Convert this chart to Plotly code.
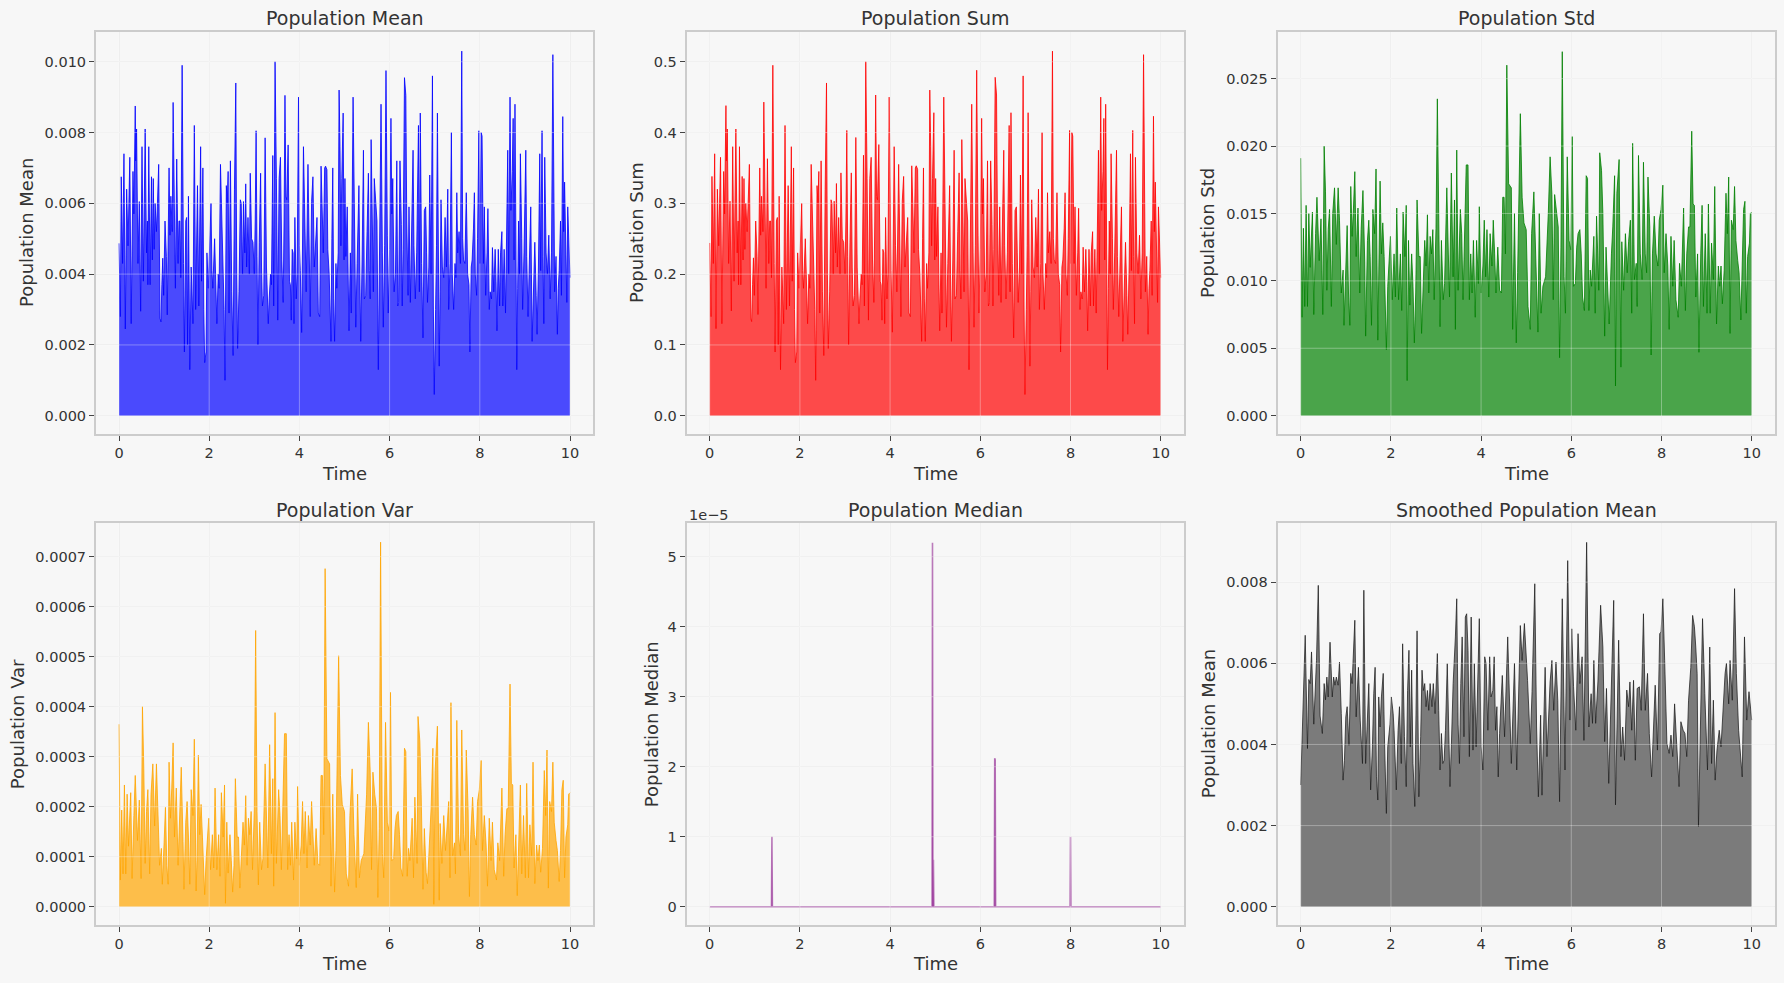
import plotly.graph_objects as go

# ---- values ----
mean_time = [
    0.00, 0.03, 0.05, 0.08, 0.11, 0.14, 0.17, 0.20, 0.24, 0.27,
    0.31, 0.33, 0.36, 0.37, 0.39, 0.42, 0.45, 0.48, 0.51, 0.54,
    0.58, 0.61, 0.63, 0.64, 0.66, 0.69, 0.72, 0.74, 0.76, 0.78,
    0.80, 0.83, 0.85, 0.88, 0.91, 0.93, 0.95, 0.97, 0.99, 1.02,
    1.05, 1.07, 1.11, 1.13, 1.15, 1.18, 1.20, 1.23, 1.25, 1.28,
    1.31, 1.33, 1.35, 1.37, 1.40, 1.43, 1.45, 1.48, 1.50, 1.52,
    1.54, 1.57, 1.60, 1.64, 1.67, 1.70, 1.74, 1.77, 1.79, 1.81,
    1.83, 1.86, 1.88, 1.90, 1.93, 1.95, 1.98, 2.02, 2.04, 2.06,
    2.08, 2.12, 2.14, 2.17, 2.20, 2.22, 2.25, 2.27, 2.30, 2.33,
    2.35, 2.38, 2.40, 2.42, 2.44, 2.47, 2.50, 2.53, 2.56, 2.59,
    2.61, 2.63, 2.66, 2.69, 2.71, 2.74, 2.76, 2.79, 2.81, 2.83,
    2.86, 2.89, 2.91, 2.94, 2.97, 3.00, 3.02, 3.04, 3.06, 3.08,
    3.11, 3.14, 3.16, 3.18, 3.21, 3.24, 3.27, 3.29, 3.31, 3.33,
    3.36, 3.38, 3.41, 3.43, 3.46, 3.49, 3.52, 3.55, 3.58, 3.61,
    3.64, 3.66, 3.68, 3.70, 3.72, 3.75, 3.78, 3.80, 3.82, 3.84,
    3.86, 3.88, 3.90, 3.93, 3.95, 3.98, 4.00, 4.02, 4.05, 4.09,
    4.12, 4.15, 4.19, 4.21, 4.24, 4.27, 4.30, 4.33, 4.36, 4.39,
    4.42, 4.45, 4.48, 4.50, 4.53, 4.56, 4.58, 4.61, 4.63, 4.66,
    4.70, 4.72, 4.74, 4.76, 4.78, 4.81, 4.83, 4.86, 4.88, 4.90,
    4.92, 4.94, 4.97, 4.99, 5.01, 5.03, 5.06, 5.08, 5.10, 5.13,
    5.15, 5.19, 5.22, 5.25, 5.28, 5.32, 5.34, 5.36, 5.39, 5.42,
    5.44, 5.47, 5.50, 5.53, 5.55, 5.57, 5.59, 5.62, 5.64, 5.66,
    5.69, 5.72, 5.75, 5.78, 5.81, 5.84, 5.86, 5.89, 5.92, 5.95,
    5.97, 6.00, 6.03, 6.05, 6.07, 6.10, 6.13, 6.16, 6.18, 6.20,
    6.23, 6.26, 6.28, 6.30, 6.33, 6.36, 6.38, 6.41, 6.43, 6.46,
    6.49, 6.52, 6.54, 6.57, 6.60, 6.64, 6.66, 6.68, 6.71, 6.74,
    6.77, 6.80, 6.82, 6.84, 6.87, 6.89, 6.92, 6.95, 6.97, 6.99,
    7.02, 7.04, 7.06, 7.08, 7.10, 7.12, 7.14, 7.17, 7.20, 7.23,
    7.26, 7.29, 7.31, 7.34, 7.37, 7.39, 7.42, 7.45, 7.47, 7.49,
    7.51, 7.54, 7.57, 7.60, 7.62, 7.64, 7.67, 7.70, 7.73, 7.76,
    7.78, 7.81, 7.83, 7.86, 7.88, 7.90, 7.93, 7.95, 7.98, 8.00,
    8.03, 8.05, 8.08, 8.10, 8.13, 8.16, 8.18, 8.21, 8.23, 8.26,
    8.28, 8.31, 8.34, 8.36, 8.38, 8.41, 8.44, 8.46, 8.49, 8.51,
    8.54, 8.57, 8.59, 8.62, 8.64, 8.67, 8.69, 8.72, 8.74, 8.76,
    8.78, 8.80, 8.82, 8.84, 8.86, 8.88, 8.90, 8.93, 8.95, 8.98,
    9.02, 9.04, 9.07, 9.10, 9.13, 9.16, 9.19, 9.22, 9.25, 9.27,
    9.30, 9.33, 9.35, 9.38, 9.40, 9.42, 9.44, 9.47, 9.50, 9.53,
    9.56, 9.59, 9.62, 9.64, 9.66, 9.69, 9.72, 9.74, 9.76, 9.79,
    9.81, 9.84, 9.86, 9.88, 9.91, 9.93, 9.95, 9.98, 10.00,
]

mean_vals = [
    4.87e-3, 2.8e-3, 6.75e-3, 4.3e-3, 7.4e-3, 2.45e-3, 6.4e-3, 4.8e-3, 7.3e-3, 2.6e-3,
    6.9e-3, 5.7e-3, 8.75e-3, 7.2e-3, 8.1e-3, 4.3e-3, 6.05e-3, 2.95e-3, 7.6e-3, 3.8e-3,
    8.1e-3, 4.6e-3, 5.5e-3, 3.7e-3, 7.6e-3, 3.7e-3, 6.75e-3, 4.4e-3, 6.7e-3, 4.7e-3,
    6.0e-3, 5.2e-3, 5.9e-3, 7.1e-3, 2.75e-3, 2.65e-3, 3.7e-3, 4.45e-3, 3.4e-3, 5.5e-3,
    4.5e-3, 2.85e-3, 7.0e-3, 5.1e-3, 6.2e-3, 5.2e-3, 8.85e-3, 5.05e-3, 3.6e-3, 7.25e-3,
    4.3e-3, 5.5e-3, 5.5e-3, 3.9e-3, 9.9e-3, 4.3e-3, 1.8e-3, 5.5e-3, 5.6e-3, 2.0e-3,
    6.2e-3, 1.3e-3, 4.2e-3, 2.6e-3, 8.2e-3, 3.0e-3, 6.5e-3, 3.1e-3, 6.2e-3, 7.6e-3,
    3.8e-3, 7.0e-3, 3.0e-3, 1.5e-3, 1.8e-3, 4.6e-3, 3.6e-3, 5.7e-3, 6.0e-3, 4.1e-3,
    3.6e-3, 5.0e-3, 3.6e-3, 2.6e-3, 4.0e-3, 3.6e-3, 7.1e-3, 6.1e-3, 4.7e-3, 3.0e-3,
    1.0e-3, 6.5e-3, 6.0e-3, 6.9e-3, 2.9e-3, 7.2e-3, 3.5e-3, 1.7e-3, 6.4e-3, 9.4e-3,
    4.0e-3, 1.9e-3, 3.5e-3, 6.1e-3, 6.0e-3, 4.0e-3, 6.05e-3, 4.6e-3, 6.55e-3, 4.2e-3,
    5.6e-3, 4.0e-3, 6.85e-3, 5.0e-3, 4.9e-3, 4.0e-3, 5.5e-3, 8.05e-3, 4.5e-3, 2.0e-3,
    4.9e-3, 6.85e-3, 4.2e-3, 3.1e-3, 3.4e-3, 7.85e-3, 4.2e-3, 2.9e-3, 2.6e-3, 3.3e-3,
    4.0e-3, 3.7e-3, 7.35e-3, 3.1e-3, 10.0e-3, 6.7e-3, 2.7e-3, 6.7e-3, 7.3e-3, 4.4e-3,
    3.2e-3, 5.5e-3, 9.05e-3, 6.2e-3, 6.1e-3, 7.65e-3, 3.8e-3, 3.7e-3, 2.7e-3, 4.7e-3,
    4.6e-3, 2.6e-3, 5.6e-3, 3.3e-3, 4.0e-3, 9.0e-3, 4.8e-3, 4.1e-3, 2.35e-3, 7.6e-3,
    4.8e-3, 3.5e-3, 7.1e-3, 4.7e-3, 2.8e-3, 6.05e-3, 6.75e-3, 4.2e-3, 5.0e-3, 5.6e-3,
    2.9e-3, 2.8e-3, 7.05e-3, 5.7e-3, 4.6e-3, 7.0e-3, 7.05e-3, 6.95e-3, 4.7e-3, 4.0e-3,
    2.1e-3, 5.0e-3, 7.0e-3, 3.3e-3, 2.1e-3, 4.3e-3, 3.6e-3, 4.6e-3, 9.2e-3, 7.6e-3,
    4.8e-3, 6.7e-3, 8.55e-3, 4.4e-3, 6.7e-3, 4.5e-3, 5.9e-3, 4.0e-3, 2.4e-3, 4.6e-3,
    2.9e-3, 9.0e-3, 4.9e-3, 2.5e-3, 4.3e-3, 6.5e-3, 4.0e-3, 2.1e-3, 4.4e-3, 7.5e-3,
    3.3e-3, 3.4e-3, 5.2e-3, 6.85e-3, 4.1e-3, 3.3e-3, 7.8e-3, 4.7e-3, 3.5e-3, 6.7e-3,
    6.0e-3, 5.5e-3, 1.3e-3, 4.5e-3, 8.8e-3, 4.6e-3, 2.5e-3, 4.8e-3, 9.75e-3, 5.1e-3,
    2.9e-3, 4.7e-3, 8.4e-3, 5.7e-3, 6.7e-3, 3.5e-3, 4.0e-3, 7.2e-3, 3.1e-3, 3.2e-3,
    7.2e-3, 5.4e-3, 3.1e-3, 4.7e-3, 9.55e-3, 9.05e-3, 5.5e-3, 3.4e-3, 5.9e-3, 3.2e-3,
    5.6e-3, 7.5e-3, 4.8e-3, 3.3e-3, 4.6e-3, 8.2e-3, 3.5e-3, 8.55e-3, 4.3e-3, 2.2e-3,
    5.8e-3, 5.9e-3, 4.6e-3, 3.2e-3, 4.2e-3, 6.8e-3, 4.0e-3, 9.6e-3, 3.1e-3, 0.6e-3,
    3.0e-3, 4.8e-3, 8.55e-3, 4.0e-3, 1.4e-3, 3.5e-3, 6.1e-3, 4.2e-3, 3.9e-3, 5.6e-3,
    4.2e-3, 6.4e-3, 3.0e-3, 4.3e-3, 8.0e-3, 4.0e-3, 3.0e-3, 4.3e-3, 3.9e-3, 6.3e-3,
    4.6e-3, 5.2e-3, 4.3e-3, 10.3e-3, 5.0e-3, 4.4e-3, 4.3e-3, 6.3e-3, 4.0e-3, 3.7e-3,
    1.8e-3, 4.2e-3, 4.4e-3, 5.3e-3, 6.3e-3, 4.0e-3, 3.4e-3, 5.0e-3, 8.05e-3, 4.3e-3,
    8.0e-3, 7.9e-3, 4.3e-3, 5.9e-3, 3.4e-3, 4.6e-3, 5.85e-3, 3.0e-3, 3.5e-3, 3.3e-3,
    4.75e-3, 3.5e-3, 4.7e-3, 3.8e-3, 2.4e-3, 4.7e-3, 3.1e-3, 4.6e-3, 5.2e-3, 3.1e-3,
    4.7e-3, 2.9e-3, 4.3e-3, 7.5e-3, 4.0e-3, 9.0e-3, 5.8e-3, 6.9e-3, 8.4e-3, 4.4e-3,
    8.8e-3, 4.7e-3, 1.3e-3, 3.6e-3, 5.5e-3, 4.0e-3, 7.4e-3, 5.0e-3, 3.0e-3, 4.6e-3,
    7.5e-3, 4.5e-3, 2.8e-3, 4.4e-3, 5.9e-3, 2.1e-3, 3.6e-3, 4.9e-3, 3.4e-3, 2.3e-3,
    4.2e-3, 7.4e-3, 4.1e-3, 8.05e-3, 4.5e-3, 2.6e-3, 7.3e-3, 4.6e-3, 4.0e-3, 5.1e-3,
    3.3e-3, 4.6e-3, 10.2e-3, 6.2e-3, 3.5e-3, 4.5e-3, 2.3e-3, 3.6e-3, 4.1e-3, 5.5e-3,
    3.4e-3, 8.45e-3, 5.2e-3, 6.6e-3, 4.2e-3, 3.2e-3, 5.9e-3, 4.6e-3, 3.9e-3,
]

sum_vals = [
    0.244, 0.140, 0.338, 0.215, 0.370, 0.123, 0.320, 0.240, 0.365, 0.130,
    0.345, 0.285, 0.438, 0.360, 0.405, 0.215, 0.303, 0.148, 0.380, 0.190,
    0.405, 0.230, 0.275, 0.185, 0.380, 0.185, 0.338, 0.220, 0.335, 0.235,
    0.300, 0.260, 0.295, 0.355, 0.138, 0.133, 0.185, 0.223, 0.170, 0.275,
    0.225, 0.143, 0.350, 0.255, 0.310, 0.260, 0.443, 0.253, 0.180, 0.363,
    0.215, 0.275, 0.275, 0.195, 0.495, 0.215, 0.090, 0.275, 0.280, 0.100,
    0.310, 0.065, 0.210, 0.130, 0.410, 0.150, 0.325, 0.155, 0.310, 0.380,
    0.190, 0.350, 0.150, 0.075, 0.090, 0.230, 0.180, 0.285, 0.300, 0.205,
    0.180, 0.250, 0.180, 0.130, 0.200, 0.180, 0.355, 0.305, 0.235, 0.150,
    0.050, 0.325, 0.300, 0.345, 0.145, 0.360, 0.175, 0.085, 0.320, 0.470,
    0.200, 0.095, 0.175, 0.305, 0.300, 0.200, 0.303, 0.230, 0.328, 0.210,
    0.280, 0.200, 0.343, 0.250, 0.245, 0.200, 0.275, 0.403, 0.225, 0.100,
    0.245, 0.343, 0.210, 0.155, 0.170, 0.393, 0.210, 0.145, 0.130, 0.165,
    0.200, 0.185, 0.368, 0.155, 0.500, 0.335, 0.135, 0.335, 0.365, 0.220,
    0.160, 0.275, 0.453, 0.310, 0.305, 0.383, 0.190, 0.185, 0.135, 0.235,
    0.230, 0.130, 0.280, 0.165, 0.200, 0.450, 0.240, 0.205, 0.118, 0.380,
    0.240, 0.175, 0.355, 0.235, 0.140, 0.303, 0.338, 0.210, 0.250, 0.280,
    0.145, 0.140, 0.353, 0.285, 0.230, 0.350, 0.353, 0.348, 0.235, 0.200,
    0.105, 0.250, 0.350, 0.165, 0.105, 0.215, 0.180, 0.230, 0.460, 0.380,
    0.240, 0.335, 0.428, 0.220, 0.335, 0.225, 0.295, 0.200, 0.120, 0.230,
    0.145, 0.450, 0.245, 0.125, 0.215, 0.325, 0.200, 0.105, 0.220, 0.375,
    0.165, 0.170, 0.260, 0.343, 0.205, 0.165, 0.390, 0.235, 0.175, 0.335,
    0.300, 0.275, 0.065, 0.225, 0.440, 0.230, 0.125, 0.240, 0.488, 0.255,
    0.145, 0.235, 0.420, 0.285, 0.335, 0.175, 0.200, 0.360, 0.155, 0.160,
    0.360, 0.270, 0.155, 0.235, 0.478, 0.453, 0.275, 0.170, 0.295, 0.160,
    0.280, 0.375, 0.240, 0.165, 0.230, 0.410, 0.175, 0.428, 0.215, 0.110,
    0.290, 0.295, 0.230, 0.160, 0.210, 0.340, 0.200, 0.480, 0.155, 0.030,
    0.150, 0.240, 0.428, 0.200, 0.070, 0.175, 0.305, 0.210, 0.195, 0.280,
    0.210, 0.320, 0.150, 0.215, 0.400, 0.200, 0.150, 0.215, 0.195, 0.315,
    0.230, 0.260, 0.215, 0.515, 0.250, 0.220, 0.215, 0.315, 0.200, 0.185,
    0.090, 0.210, 0.220, 0.265, 0.315, 0.200, 0.170, 0.250, 0.403, 0.215,
    0.400, 0.395, 0.215, 0.295, 0.170, 0.230, 0.293, 0.150, 0.175, 0.165,
    0.238, 0.175, 0.235, 0.190, 0.120, 0.235, 0.155, 0.230, 0.260, 0.155,
    0.235, 0.145, 0.215, 0.375, 0.200, 0.450, 0.290, 0.345, 0.420, 0.220,
    0.440, 0.235, 0.065, 0.180, 0.275, 0.200, 0.370, 0.250, 0.150, 0.230,
    0.375, 0.225, 0.140, 0.220, 0.295, 0.105, 0.180, 0.245, 0.170, 0.115,
    0.210, 0.370, 0.205, 0.403, 0.225, 0.130, 0.365, 0.230, 0.200, 0.255,
    0.165, 0.230, 0.510, 0.310, 0.175, 0.225, 0.115, 0.180, 0.205, 0.275,
    0.170, 0.423, 0.260, 0.330, 0.210, 0.160, 0.295, 0.230, 0.195,
]

std_time = [
    0.00, 0.03, 0.06, 0.09, 0.12, 0.15, 0.18, 0.21, 0.26, 0.29,
    0.33, 0.36, 0.41, 0.45, 0.49, 0.52, 0.55, 0.58, 0.61, 0.64,
    0.68, 0.71, 0.75, 0.79, 0.83, 0.86, 0.90, 0.94, 0.96, 1.00,
    1.03, 1.06, 1.09, 1.11, 1.14, 1.17, 1.20, 1.23, 1.27, 1.31,
    1.34, 1.38, 1.42, 1.44, 1.48, 1.51, 1.54, 1.57, 1.60, 1.64,
    1.67, 1.71, 1.73, 1.76, 1.79, 1.82, 1.85, 1.90, 1.93, 1.96,
    1.99, 2.03, 2.07, 2.10, 2.13, 2.17, 2.21, 2.24, 2.27, 2.31,
    2.34, 2.36, 2.39, 2.42, 2.46, 2.49, 2.52, 2.55, 2.58, 2.62,
    2.65, 2.68, 2.71, 2.75, 2.78, 2.81, 2.84, 2.87, 2.90, 2.93,
    2.96, 3.00, 3.03, 3.06, 3.09, 3.12, 3.16, 3.19, 3.24, 3.28,
    3.30, 3.34, 3.38, 3.41, 3.43, 3.46, 3.49, 3.54, 3.57, 3.60,
    3.63, 3.67, 3.71, 3.74, 3.77, 3.80, 3.83, 3.87, 3.90, 3.94,
    3.96, 4.00, 4.04, 4.07, 4.10, 4.13, 4.17, 4.20, 4.24, 4.27,
    4.30, 4.33, 4.37, 4.41, 4.45, 4.48, 4.51, 4.54, 4.57, 4.61,
    4.67, 4.70, 4.74, 4.78, 4.81, 4.87, 4.91, 4.95, 5.00, 5.04,
    5.09, 5.12, 5.17, 5.21, 5.26, 5.29, 5.33, 5.37, 5.43, 5.49,
    5.53, 5.57, 5.60, 5.63, 5.67, 5.71, 5.74, 5.77, 5.80, 5.84,
    5.87, 5.91, 5.95, 5.99, 6.02, 6.05, 6.09, 6.12, 6.15, 6.19,
    6.22, 6.25, 6.29, 6.33, 6.36, 6.39, 6.42, 6.45, 6.50, 6.53,
    6.56, 6.61, 6.63, 6.67, 6.70, 6.74, 6.77, 6.81, 6.84, 6.89,
    6.92, 6.96, 6.98, 7.01, 7.06, 7.10, 7.12, 7.16, 7.20, 7.24,
    7.27, 7.31, 7.34, 7.36, 7.40, 7.44, 7.46, 7.49, 7.53, 7.57,
    7.60, 7.64, 7.67, 7.70, 7.74, 7.77, 7.80, 7.84, 7.88, 7.92,
    7.95, 7.99, 8.03, 8.06, 8.10, 8.14, 8.17, 8.21, 8.25, 8.28,
    8.32, 8.37, 8.40, 8.44, 8.49, 8.53, 8.56, 8.60, 8.63, 8.67,
    8.70, 8.73, 8.76, 8.80, 8.83, 8.87, 8.90, 8.93, 8.97, 9.01,
    9.04, 9.08, 9.11, 9.15, 9.18, 9.22, 9.26, 9.29, 9.32, 9.35,
    9.39, 9.43, 9.46, 9.49, 9.52, 9.55, 9.59, 9.62, 9.65, 9.69,
    9.72, 9.76, 9.79, 9.82, 9.85, 9.88, 9.91, 9.95, 9.97, 10.00,
]

std_vals = [
    19.1e-3, 7.3e-3, 13.9e-3, 8.1e-3, 15.6e-3, 8.1e-3, 15.0e-3, 11.0e-3, 15.1e-3, 7.5e-3,
    13.5e-3, 16.2e-3, 11.5e-3, 14.6e-3, 7.5e-3, 20.0e-3, 16.6e-3, 9.3e-3, 13.8e-3, 15.3e-3,
    8.1e-3, 15.0e-3, 16.9e-3, 12.7e-3, 16.9e-3, 14.5e-3, 9.1e-3, 10.8e-3, 6.7e-3, 11.3e-3,
    14.1e-3, 9.1e-3, 6.7e-3, 17.0e-3, 13.3e-3, 15.4e-3, 18.1e-3, 11.8e-3, 15.4e-3, 9.1e-3,
    13.8e-3, 16.7e-3, 11.4e-3, 5.9e-3, 13.0e-3, 14.5e-3, 11.8e-3, 6.7e-3, 15.3e-3, 13.5e-3,
    18.3e-3, 5.6e-3, 9.6e-3, 17.4e-3, 12.0e-3, 14.3e-3, 11.8e-3, 4.9e-3, 9.6e-3, 11.3e-3,
    13.3e-3, 8.6e-3, 12.0e-3, 8.8e-3, 15.4e-3, 8.6e-3, 12.0e-3, 7.8e-3, 15.1e-3, 11.8e-3,
    15.6e-3, 2.6e-3, 13.0e-3, 8.2e-3, 12.0e-3, 9.6e-3, 5.4e-3, 9.1e-3, 16.0e-3, 11.8e-3,
    11.8e-3, 6.1e-3, 9.1e-3, 13.0e-3, 11.1e-3, 14.9e-3, 9.1e-3, 13.3e-3, 12.0e-3, 13.8e-3,
    8.6e-3, 13.9e-3, 23.5e-3, 13.8e-3, 6.6e-3, 13.0e-3, 8.6e-3, 9.8e-3, 16.9e-3, 11.1e-3,
    8.8e-3, 18.0e-3, 10.3e-3, 16.0e-3, 6.4e-3, 19.7e-3, 9.3e-3, 15.3e-3, 13.5e-3, 8.6e-3,
    13.0e-3, 18.6e-3, 18.6e-3, 8.6e-3, 12.0e-3, 9.1e-3, 13.0e-3, 7.3e-3, 13.0e-3, 9.8e-3,
    15.5e-3, 9.1e-3, 11.1e-3, 14.5e-3, 10.3e-3, 13.8e-3, 8.8e-3, 13.5e-3, 11.1e-3, 14.5e-3,
    12.0e-3, 9.1e-3, 12.5e-3, 9.3e-3, 9.1e-3, 16.2e-3, 16.2e-3, 12.0e-3, 26.0e-3, 17.2e-3,
    16.9e-3, 6.4e-3, 15.0e-3, 5.4e-3, 10.6e-3, 22.4e-3, 16.2e-3, 14.3e-3, 13.8e-3, 8.1e-3,
    6.4e-3, 13.5e-3, 16.6e-3, 12.0e-3, 6.2e-3, 15.0e-3, 7.6e-3, 9.6e-3, 10.3e-3, 15.0e-3,
    19.2e-3, 16.4e-3, 8.6e-3, 16.4e-3, 15.0e-3, 14.0e-3, 4.3e-3, 12.5e-3, 27.0e-3, 10.3e-3,
    7.6e-3, 19.2e-3, 13.0e-3, 12.3e-3, 20.7e-3, 9.6e-3, 9.8e-3, 12.5e-3, 13.5e-3, 13.8e-3,
    12.0e-3, 8.8e-3, 7.8e-3, 17.8e-3, 17.6e-3, 7.8e-3, 10.8e-3, 9.6e-3, 13.3e-3, 7.6e-3,
    14.8e-3, 9.3e-3, 19.5e-3, 18.2e-3, 15.0e-3, 5.9e-3, 12.5e-3, 8.3e-3, 6.8e-3, 12.0e-3,
    14.0e-3, 17.8e-3, 2.2e-3, 16.5e-3, 19.0e-3, 3.6e-3, 12.9e-3, 9.3e-3, 13.5e-3, 10.6e-3,
    12.9e-3, 14.5e-3, 7.6e-3, 20.2e-3, 10.1e-3, 11.3e-3, 8.1e-3, 19.3e-3, 12.0e-3, 10.1e-3,
    18.8e-3, 12.0e-3, 10.6e-3, 17.7e-3, 14.0e-3, 4.5e-3, 12.0e-3, 14.8e-3, 12.0e-3, 11.1e-3,
    14.5e-3, 15.3e-3, 17.1e-3, 10.6e-3, 13.5e-3, 11.1e-3, 6.4e-3, 13.3e-3, 9.6e-3, 13.0e-3,
    8.6e-3, 7.3e-3, 11.3e-3, 9.6e-3, 15.4e-3, 7.8e-3, 12.0e-3, 14.0e-3, 14.0e-3, 21.1e-3,
    15.7e-3, 15.6e-3, 8.8e-3, 12.0e-3, 4.7e-3, 12.0e-3, 15.6e-3, 8.1e-3, 13.5e-3, 7.6e-3,
    15.7e-3, 7.6e-3, 12.8e-3, 10.1e-3, 17.0e-3, 6.8e-3, 11.1e-3, 9.6e-3, 11.1e-3, 8.3e-3,
    10.8e-3, 16.5e-3, 13.5e-3, 17.7e-3, 6.1e-3, 14.5e-3, 13.8e-3, 17.0e-3, 13.0e-3, 11.5e-3,
    10.6e-3, 7.1e-3, 10.6e-3, 15.3e-3, 15.9e-3, 7.6e-3, 11.8e-3, 12.8e-3, 15.0e-3, 15.1e-3,
]

var_vals = [
    364.8e-6, 53.3e-6, 193.2e-6, 65.6e-6, 243.4e-6, 65.6e-6, 225.0e-6, 121.0e-6, 228.0e-6, 56.3e-6,
    182.3e-6, 262.4e-6, 132.3e-6, 213.2e-6, 56.3e-6, 400.0e-6, 275.6e-6, 86.5e-6, 190.4e-6, 234.1e-6,
    65.6e-6, 225.0e-6, 285.6e-6, 161.3e-6, 285.6e-6, 210.3e-6, 82.8e-6, 116.6e-6, 44.9e-6, 127.7e-6,
    198.8e-6, 82.8e-6, 44.9e-6, 289.0e-6, 176.9e-6, 237.2e-6, 327.6e-6, 139.2e-6, 237.2e-6, 82.8e-6,
    190.4e-6, 278.9e-6, 130.0e-6, 34.8e-6, 169.0e-6, 210.3e-6, 139.2e-6, 44.9e-6, 234.1e-6, 182.3e-6,
    334.9e-6, 31.4e-6, 92.2e-6, 302.8e-6, 144.0e-6, 204.5e-6, 139.2e-6, 24.0e-6, 92.2e-6, 127.7e-6,
    176.9e-6, 74.0e-6, 144.0e-6, 77.4e-6, 237.2e-6, 74.0e-6, 144.0e-6, 60.8e-6, 228.0e-6, 139.2e-6,
    243.4e-6, 6.8e-6, 169.0e-6, 67.2e-6, 144.0e-6, 92.2e-6, 29.2e-6, 82.8e-6, 256.0e-6, 139.2e-6,
    139.2e-6, 37.2e-6, 82.8e-6, 169.0e-6, 123.2e-6, 222.0e-6, 82.8e-6, 176.9e-6, 144.0e-6, 190.4e-6,
    74.0e-6, 193.2e-6, 552.3e-6, 190.4e-6, 43.6e-6, 169.0e-6, 74.0e-6, 96.0e-6, 285.6e-6, 123.2e-6,
    77.4e-6, 324.0e-6, 106.1e-6, 256.0e-6, 41.0e-6, 388.1e-6, 86.5e-6, 234.1e-6, 182.3e-6, 74.0e-6,
    169.0e-6, 346.0e-6, 346.0e-6, 74.0e-6, 144.0e-6, 82.8e-6, 169.0e-6, 53.3e-6, 169.0e-6, 96.0e-6,
    240.3e-6, 82.8e-6, 123.2e-6, 210.3e-6, 106.1e-6, 190.4e-6, 77.4e-6, 182.3e-6, 123.2e-6, 210.3e-6,
    144.0e-6, 82.8e-6, 156.3e-6, 86.5e-6, 82.8e-6, 262.4e-6, 262.4e-6, 144.0e-6, 676.0e-6, 295.8e-6,
    285.6e-6, 41.0e-6, 225.0e-6, 29.2e-6, 112.4e-6, 501.8e-6, 262.4e-6, 204.5e-6, 190.4e-6, 65.6e-6,
    41.0e-6, 182.3e-6, 275.6e-6, 144.0e-6, 38.4e-6, 225.0e-6, 57.8e-6, 92.2e-6, 106.1e-6, 225.0e-6,
    368.6e-6, 269.0e-6, 74.0e-6, 269.0e-6, 225.0e-6, 196.0e-6, 18.5e-6, 156.3e-6, 729.0e-6, 106.1e-6,
    57.8e-6, 368.6e-6, 169.0e-6, 151.3e-6, 428.5e-6, 92.2e-6, 96.0e-6, 156.3e-6, 182.3e-6, 190.4e-6,
    144.0e-6, 77.4e-6, 60.8e-6, 316.8e-6, 309.8e-6, 60.8e-6, 116.6e-6, 92.2e-6, 176.9e-6, 57.8e-6,
    219.0e-6, 86.5e-6, 380.3e-6, 331.2e-6, 225.0e-6, 34.8e-6, 156.3e-6, 68.9e-6, 46.2e-6, 144.0e-6,
    196.0e-6, 316.8e-6, 4.8e-6, 272.3e-6, 361.0e-6, 13.0e-6, 166.4e-6, 86.5e-6, 182.3e-6, 112.4e-6,
    166.4e-6, 210.3e-6, 57.8e-6, 408.0e-6, 102.0e-6, 127.7e-6, 65.6e-6, 372.5e-6, 144.0e-6, 102.0e-6,
    353.4e-6, 144.0e-6, 112.4e-6, 313.3e-6, 196.0e-6, 20.3e-6, 144.0e-6, 219.0e-6, 144.0e-6, 123.2e-6,
    210.3e-6, 234.1e-6, 292.4e-6, 112.4e-6, 182.3e-6, 123.2e-6, 41.0e-6, 176.9e-6, 92.2e-6, 169.0e-6,
    74.0e-6, 53.3e-6, 127.7e-6, 92.2e-6, 237.2e-6, 60.8e-6, 144.0e-6, 196.0e-6, 196.0e-6, 445.2e-6,
    246.5e-6, 243.4e-6, 77.4e-6, 144.0e-6, 22.1e-6, 144.0e-6, 243.4e-6, 65.6e-6, 182.3e-6, 57.8e-6,
    246.5e-6, 57.8e-6, 163.8e-6, 102.0e-6, 289.0e-6, 46.2e-6, 123.2e-6, 92.2e-6, 123.2e-6, 68.9e-6,
    116.6e-6, 272.3e-6, 182.3e-6, 313.3e-6, 37.2e-6, 210.3e-6, 190.4e-6, 289.0e-6, 169.0e-6, 132.3e-6,
    112.4e-6, 50.4e-6, 112.4e-6, 234.1e-6, 252.8e-6, 57.8e-6, 139.2e-6, 163.8e-6, 225.0e-6, 228.0e-6,
]

median_time = [0.00, 1.37, 1.38, 1.39, 4.93, 4.94, 4.95, 4.96, 4.97,
               6.31, 6.32, 6.33, 6.34, 7.99, 8.00, 8.01, 10.00]
median_vals = [0.0, 0.0, 1.0e-5, 0.0, 0.0, 5.2e-5, 0.0, 0.67e-5, 0.0,
               0.0, 2.12e-5, 2.1e-5, 0.0, 0.0, 1.0e-5, 0.0, 0.0]

smooth_time = [
    0.00, 0.05, 0.10, 0.15, 0.18, 0.21, 0.24, 0.29, 0.33, 0.35,
    0.39, 0.43, 0.48, 0.52, 0.55, 0.58, 0.61, 0.65, 0.70, 0.73,
    0.76, 0.79, 0.83, 0.86, 0.90, 0.94, 0.97, 1.00, 1.03, 1.07,
    1.11, 1.14, 1.20, 1.23, 1.28, 1.32, 1.37, 1.40, 1.44, 1.48,
    1.51, 1.55, 1.59, 1.62, 1.65, 1.68, 1.71, 1.73, 1.76, 1.79,
    1.83, 1.86, 1.90, 1.93, 1.98, 2.01, 2.05, 2.07, 2.10, 2.12,
    2.16, 2.19, 2.23, 2.26, 2.30, 2.34, 2.37, 2.40, 2.43, 2.46,
    2.49, 2.53, 2.58, 2.62, 2.66, 2.69, 2.72, 2.75, 2.78, 2.81,
    2.84, 2.87, 2.91, 2.94, 2.98, 3.00, 3.03, 3.06, 3.09, 3.12,
    3.15, 3.18, 3.21, 3.25, 3.29, 3.31, 3.34, 3.38, 3.43, 3.46,
    3.49, 3.52, 3.55, 3.58, 3.62, 3.65, 3.68, 3.71, 3.74, 3.78,
    3.82, 3.85, 3.89, 3.96, 4.00, 4.04, 4.08, 4.11, 4.15, 4.19,
    4.22, 4.26, 4.29, 4.32, 4.35, 4.38, 4.41, 4.47, 4.52, 4.59,
    4.67, 4.74, 4.79, 4.87, 4.91, 4.96, 5.03, 5.09, 5.13, 5.19,
    5.23, 5.27, 5.32, 5.35, 5.42, 5.46, 5.53, 5.57, 5.61, 5.66,
    5.70, 5.74, 5.80, 5.86, 5.92, 5.97, 6.01, 6.05, 6.10, 6.15,
    6.19, 6.24, 6.28, 6.34, 6.39, 6.44, 6.47, 6.50, 6.54, 6.59,
    6.65, 6.70, 6.74, 6.78, 6.83, 6.88, 6.94, 6.98, 7.05, 7.10,
    7.14, 7.18, 7.23, 7.27, 7.30, 7.34, 7.38, 7.42, 7.46, 7.51,
    7.55, 7.60, 7.64, 7.69, 7.73, 7.78, 7.83, 7.86, 7.91, 7.96,
    7.99, 8.03, 8.07, 8.12, 8.17, 8.21, 8.25, 8.29, 8.34, 8.39,
    8.43, 8.48, 8.52, 8.56, 8.60, 8.65, 8.69, 8.73, 8.76, 8.79,
    8.82, 8.87, 8.91, 8.96, 9.02, 9.07, 9.11, 9.15, 9.19, 9.23,
    9.28, 9.32, 9.37, 9.41, 9.44, 9.49, 9.52, 9.57, 9.62, 9.66,
    9.71, 9.75, 9.79, 9.84, 9.89, 9.94, 9.97, 10.00,
]

smooth_vals = [
    3.0e-3, 4.76e-3, 6.69e-3, 3.9e-3, 5.6e-3, 5.5e-3, 6.28e-3, 4.5e-3, 5.6e-3, 6.07e-3,
    7.92e-3, 4.7e-3, 4.27e-3, 5.5e-3, 5.1e-3, 5.66e-3, 5.17e-3, 6.52e-3, 5.17e-3, 5.66e-3,
    5.46e-3, 5.66e-3, 5.46e-3, 6.03e-3, 4.76e-3, 3.12e-3, 3.61e-3, 4.68e-3, 4.93e-3, 3.98e-3,
    5.75e-3, 5.5e-3, 7.06e-3, 4.68e-3, 5.9e-3, 4.6e-3, 3.53e-3, 7.8e-3, 3.53e-3, 4.6e-3,
    5.5e-3, 2.88e-3, 3.94e-3, 5.25e-3, 5.9e-3, 3.2e-3, 2.63e-3, 5.17e-3, 4.43e-3, 5.17e-3,
    5.75e-3, 4.02e-3, 2.3e-3, 3.94e-3, 4.5e-3, 5.17e-3, 4.76e-3, 4.35e-3, 3.53e-3, 2.88e-3,
    4.35e-3, 4.93e-3, 3.53e-3, 6.48e-3, 4.19e-3, 2.96e-3, 5.33e-3, 6.32e-3, 3.94e-3, 5.83e-3,
    3.53e-3, 2.47e-3, 6.8e-3, 2.71e-3, 4.19e-3, 5.83e-3, 5.33e-3, 5.5e-3, 4.93e-3, 5.33e-3,
    4.84e-3, 5.5e-3, 4.93e-3, 5.5e-3, 4.76e-3, 5.42e-3, 6.24e-3, 4.84e-3, 3.37e-3, 4.27e-3,
    3.53e-3, 3.61e-3, 4.35e-3, 5.99e-3, 3.53e-3, 2.96e-3, 3.94e-3, 5.5e-3, 6.65e-3, 7.59e-3,
    4.5e-3, 3.53e-3, 5.5e-3, 6.65e-3, 4.19e-3, 7.14e-3, 7.22e-3, 6.32e-3, 3.7e-3, 7.14e-3,
    3.86e-3, 5.99e-3, 3.94e-3, 7.1e-3, 3.94e-3, 3.37e-3, 6.16e-3, 5.99e-3, 4.35e-3, 6.16e-3,
    5.17e-3, 5.33e-3, 6.16e-3, 4.35e-3, 4.93e-3, 3.2e-3, 4.27e-3, 5.7e-3, 4.19e-3, 6.65e-3,
    3.53e-3, 6.0e-3, 3.37e-3, 6.93e-3, 6.07e-3, 6.98e-3, 5.58e-3, 4.02e-3, 5.3e-3, 7.96e-3,
    4.43e-3, 2.71e-3, 4.72e-3, 2.75e-3, 5.9e-3, 3.7e-3, 5.54e-3, 6.07e-3, 4.84e-3, 6.03e-3,
    5.09e-3, 2.59e-3, 7.59e-3, 3.37e-3, 8.53e-3, 4.6e-3, 6.85e-3, 5.42e-3, 4.35e-3, 6.73e-3,
    5.5e-3, 6.16e-3, 4.1e-3, 8.98e-3, 4.43e-3, 5.25e-3, 4.52e-3, 6.07e-3, 4.52e-3, 5.54e-3,
    7.43e-3, 6.4e-3, 4.07e-3, 5.38e-3, 3.04e-3, 5.34e-3, 7.55e-3, 2.51e-3, 6.57e-3, 3.7e-3,
    4.43e-3, 3.61e-3, 5.34e-3, 4.93e-3, 5.54e-3, 4.35e-3, 5.58e-3, 3.61e-3, 5.38e-3, 5.42e-3,
    4.84e-3, 7.22e-3, 4.84e-3, 5.75e-3, 4.27e-3, 3.2e-3, 4.84e-3, 5.46e-3, 3.86e-3, 6.73e-3,
    6.77e-3, 7.59e-3, 6.07e-3, 4.02e-3, 3.78e-3, 4.23e-3, 3.7e-3, 5.0e-3, 3.94e-3, 2.96e-3,
    4.56e-3, 4.35e-3, 4.27e-3, 3.7e-3, 5.09e-3, 5.9e-3, 7.18e-3, 6.9e-3, 6.4e-3, 5.75e-3,
    1.98e-3, 4.76e-3, 7.1e-3, 5.25e-3, 3.37e-3, 6.4e-3, 3.53e-3, 5.09e-3, 3.12e-3, 3.86e-3,
    4.35e-3, 3.94e-3, 4.93e-3, 5.75e-3, 6.0e-3, 5.0e-3, 6.07e-3, 5.09e-3, 7.84e-3, 5.75e-3,
    4.35e-3, 3.78e-3, 3.2e-3, 6.65e-3, 4.6e-3, 5.3e-3, 4.93e-3, 4.6e-3,
]

x_ticks = [0, 2, 4, 6, 8, 10]
mean_ticks = [0, 0.002, 0.004, 0.006, 0.008, 0.010]
mean_labels = ["0.000", "0.002", "0.004", "0.006", "0.008", "0.010"]
sum_ticks = [0, 0.1, 0.2, 0.3, 0.4, 0.5]
sum_labels = ["0.0", "0.1", "0.2", "0.3", "0.4", "0.5"]
std_ticks = [0, 0.005, 0.010, 0.015, 0.020, 0.025]
std_labels = ["0.000", "0.005", "0.010", "0.015", "0.020", "0.025"]
var_ticks = [0, 0.0001, 0.0002, 0.0003, 0.0004, 0.0005, 0.0006, 0.0007]
var_labels = ["0.0000", "0.0001", "0.0002", "0.0003", "0.0004", "0.0005", "0.0006", "0.0007"]
median_ticks = [0, 1e-5, 2e-5, 3e-5, 4e-5, 5e-5]
median_labels = ["0", "1", "2", "3", "4", "5"]
smooth_ticks = [0, 0.002, 0.004, 0.006, 0.008]
smooth_labels = ["0.000", "0.002", "0.004", "0.006", "0.008"]

FONT = "DejaVu Sans, Verdana, sans-serif"
BG = "#f7f7f7"
TXT = "#333333"

panels = [
    dict(title="Population Mean", ylabel="Population Mean", x=mean_time, y=mean_vals,
         line="rgb(0,0,255)", lw=0.8, fill="rgba(0,0,255,0.7)",
         yr=[-0.000517, 0.01084], yt=mean_ticks, ytt=mean_labels, ylx=27),
    dict(title="Population Sum", ylabel="Population Sum", x=mean_time, y=sum_vals,
         line="rgb(255,0,0)", lw=0.8, fill="rgba(255,0,0,0.7)",
         yr=[-0.0258, 0.542], yt=sum_ticks, ytt=sum_labels, ylx=637),
    dict(title="Population Std", ylabel="Population Std", x=std_time, y=std_vals,
         line="rgb(0,128,0)", lw=0.8, fill="rgba(0,128,0,0.7)",
         yr=[-0.00136, 0.02846], yt=std_ticks, ytt=std_labels, ylx=1208),
    dict(title="Population Var", ylabel="Population Var", x=std_time, y=var_vals,
         line="rgb(255,165,0)", lw=0.8, fill="rgba(255,165,0,0.7)",
         yr=[-0.0000366, 0.0007667], yt=var_ticks, ytt=var_labels, ylx=17),
    dict(title="Population Median", ylabel="Population Median", x=median_time, y=median_vals,
         line="rgba(128,0,128,0.5)", lw=1.6, fill="rgba(128,0,128,0.5)",
         yr=[-0.261e-5, 5.477e-5], yt=median_ticks, ytt=median_labels, ylx=651),
    dict(title="Smoothed Population Mean", ylabel="Population Mean", x=smooth_time, y=smooth_vals,
         line="rgba(30,30,30,0.75)", lw=1.0, fill="rgba(0,0,0,0.5)",
         yr=[-0.00045, 0.00945], yt=smooth_ticks, ytt=smooth_labels, ylx=1208),
]

W, H = 1784, 983
col_px = [(96, 593), (686.7, 1183.7), (1277.7, 1774.7)]
row_px = [(32, 434), (523.3, 925)]
title_y_px = [18, 510]
time_y_px = [473, 963]

fig = go.Figure()
layout = dict(
    width=W, height=H,
    paper_bgcolor=BG, plot_bgcolor=BG,
    margin=dict(l=0, r=0, t=0, b=0),
    showlegend=False,
    font=dict(family=FONT, color=TXT),
)
annotations = []
shapes = []

axis_style = dict(
    showline=True, mirror=True, linecolor="#cccccc", linewidth=2,
    ticks="outside", ticklen=5, tickwidth=1, tickcolor="#444444",
    showgrid=True, gridcolor="#ebebeb", gridwidth=1, zeroline=False,
    tickfont=dict(family=FONT, size=14.5, color=TXT), fixedrange=True,
)

for i, p in enumerate(panels):
    n = i + 1
    s = "" if n == 1 else str(n)
    row, col = divmod(i, 3)
    x0, x1 = col_px[col]
    top, bot = row_px[row]
    xdom = [x0 / W, x1 / W]
    ydom = [1 - bot / H, 1 - top / H]

    fig.add_trace(go.Scatter(
        x=p["x"], y=p["y"], mode="lines",
        line=dict(color=p["line"], width=p["lw"]),
        fill="tozeroy", fillcolor=p["fill"],
        xaxis="x" + s, yaxis="y" + s, hoverinfo="skip",
    ))

    layout["xaxis" + s] = dict(
        axis_style, domain=xdom, anchor="y" + s, range=[-0.51, 10.51],
        tickvals=x_ticks, ticktext=[str(v) for v in x_ticks],
    )
    layout["yaxis" + s] = dict(
        axis_style, domain=ydom, anchor="x" + s, range=p["yr"],
        tickvals=p["yt"], ticktext=p["ytt"],
    )

    # panel title
    annotations.append(dict(
        text=p["title"], xref="paper", yref="paper",
        x=(x0 + x1) / 2 / W, y=1 - title_y_px[row] / H,
        xanchor="center", yanchor="middle", showarrow=False,
        font=dict(family=FONT, size=19, color=TXT),
    ))
    # x label
    annotations.append(dict(
        text="Time", xref="paper", yref="paper",
        x=(x0 + x1) / 2 / W, y=1 - time_y_px[row] / H,
        xanchor="center", yanchor="middle", showarrow=False,
        font=dict(family=FONT, size=18, color=TXT),
    ))
    # y label
    annotations.append(dict(
        text=p["ylabel"], xref="paper", yref="paper", textangle=-90,
        x=p["ylx"] / W, y=1 - (top + bot) / 2 / H,
        xanchor="center", yanchor="middle", showarrow=False,
        font=dict(family=FONT, size=18, color=TXT),
    ))

    # light grid drawn over the filled areas
    for xv in x_ticks:
        shapes.append(dict(type="line", layer="above", xref="x" + s, yref="y" + s + " domain",
                           x0=xv, x1=xv, y0=0, y1=1,
                           line=dict(color="rgba(255,255,255,0.35)", width=1)))
    for yv in p["yt"]:
        shapes.append(dict(type="line", layer="above", xref="x" + s + " domain", yref="y" + s,
                           x0=0, x1=1, y0=yv, y1=yv,
                           line=dict(color="rgba(255,255,255,0.35)", width=1)))

# offset text of the median axis
annotations.append(dict(
    text="1e\u22125", xref="paper", yref="paper",
    x=col_px[1][0] / W, y=1 - 515 / H, xanchor="left", yanchor="middle",
    showarrow=False, font=dict(family=FONT, size=14.5, color=TXT),
))

layout["annotations"] = annotations
layout["shapes"] = shapes
fig.update_layout(**layout)

# remove the browser's default page margin so the figure fills the window
page_fix = (
    "document.body.style.margin='0';"
    "document.body.style.overflow='hidden';"
    "document.body.style.background='" + BG + "';"
)
fig.write_html("out.html", post_script=page_fix, config={"displayModeBar": False})
